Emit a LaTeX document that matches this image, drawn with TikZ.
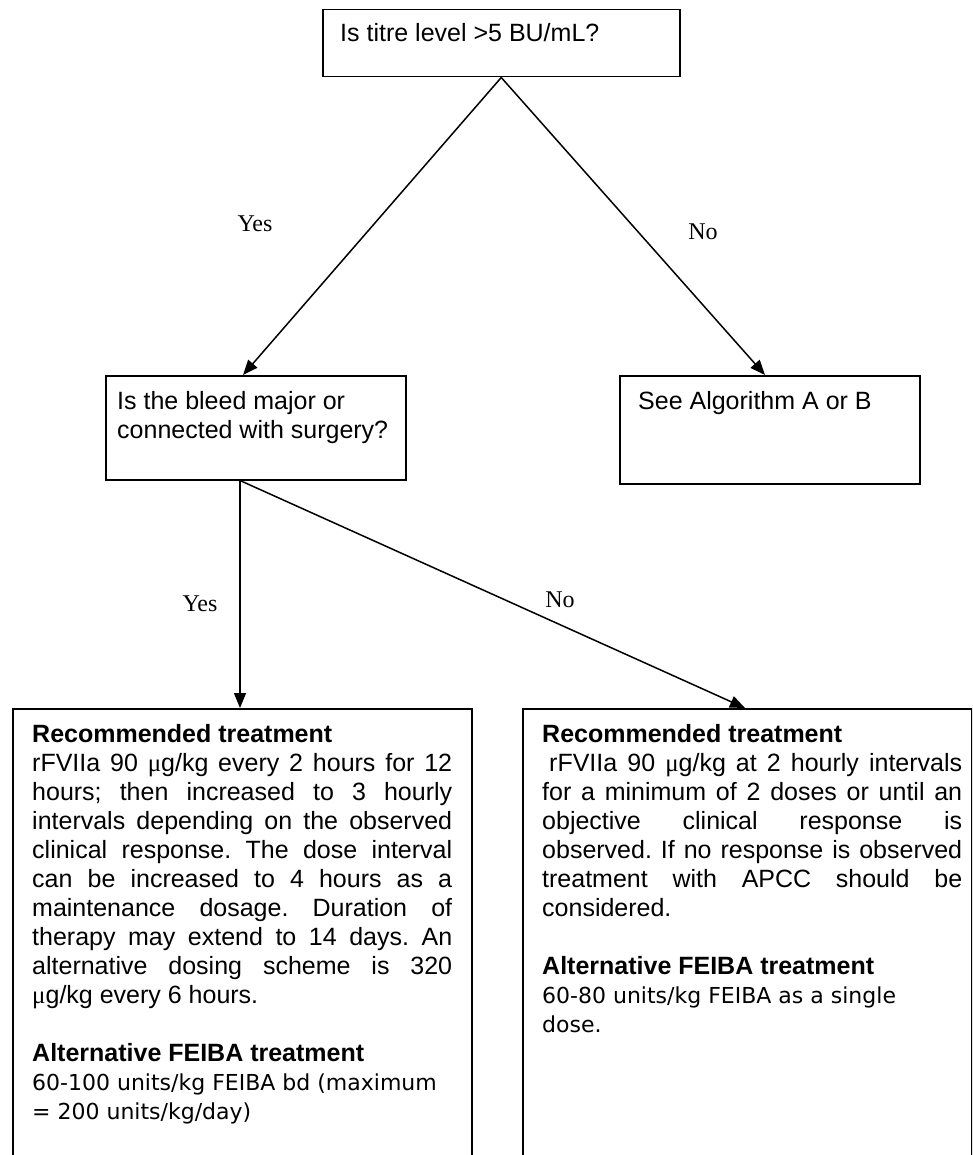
\documentclass[tikz,border=0pt]{standalone}
\usepackage{fontspec}
\setmainfont{Liberation Sans}
\newfontfamily\ynfont{Liberation Serif}
\newfontfamily\feibafont{DejaVu Sans}
\usetikzlibrary{arrows.meta,positioning}
\newcommand{\mugr}{{\ynfont\char"03BC}g}
\frenchspacing

\begin{document}
\begin{tikzpicture}[x=1pt,y=-1pt,
    box/.style={draw,line width=1.5pt,inner sep=0pt,anchor=north west},
    boxtext/.style={inner sep=0pt,font=\fontsize{25}{29}\selectfont},
    answer/.style={inner sep=0pt,font=\ynfont\fontsize{24}{28}\selectfont},
    arrow/.style={line width=1.5pt,-{Triangle[length=15pt,width=12pt]}},
  ]
  \useasboundingbox (0,0) rectangle (972,1155);
  \clip (0,0) rectangle (972,1155);

  % questions
  \node[box,minimum width=357pt,minimum height=67pt] (titre) at (322,9) {};
  \node[box,minimum width=300pt,minimum height=104pt] (bleed) at (105,375) {};
  \node[box,minimum width=300pt,minimum height=108pt] (algo) at (619,375) {};
  % treatments, open at the foot of the page
  \node[box,minimum width=459pt,minimum height=470pt] (major) at (12,708) {};
  \node[box,minimum width=449pt,minimum height=470pt] (minor) at (522,708) {};

  \node[boxtext,anchor=base west] (titreq) at ([xshift=18pt,yshift=-33pt]titre.north west) {Is titre level >5 BU/mL?};
  \node[boxtext,anchor=north west,align=left] (bleedq) at ([xshift=12pt,yshift=-16pt]bleed.north west) {Is the bleed major or\\connected with surgery?};
  \node[boxtext,anchor=base west] (algoq) at ([xshift=19pt,yshift=-34pt]algo.north west) {See Algorithm A or B};

  \node[boxtext,anchor=north west,text width=420pt,align=justify] (majortxt) at ([xshift=20pt,yshift=-16pt]major.north west) {%
    \hbadness=10000 \hyphenpenalty=10000
    \textbf{Recommended treatment}\\
    rFVIIa 90 \mugr/kg every 2 hours for 12\linebreak
    hours; then increased to 3 hourly\linebreak
    intervals depending on the observed\linebreak
    clinical response. The dose interval\linebreak
    can be increased to 4 hours as a\linebreak
    maintenance dosage. Duration of\linebreak
    therapy may extend to 14 days. An\linebreak
    alternative dosing scheme is 320\linebreak
    \mugr/kg every 6 hours.\par\vspace{29pt}
    \textbf{Alternative FEIBA treatment}\\
    {\feibafont\fontsize{22}{29}\selectfont 60-100 units/kg FEIBA bd (maximum\\
    = 200 units/kg/day)}};
  \node[boxtext,anchor=north west,text width=420pt,align=justify] (minortxt) at ([xshift=20pt,yshift=-16pt]minor.north west) {%
    \hbadness=10000 \hyphenpenalty=10000
    \textbf{Recommended treatment}\\
    \hspace*{0.28em}rFVIIa 90 \mugr/kg at 2 hourly intervals\linebreak
    for a minimum of 2 doses or until an\linebreak
    objective clinical response is\linebreak
    observed. If no response is observed\linebreak
    treatment with APCC should be\linebreak
    considered.\par\vspace{29pt}
    \textbf{Alternative FEIBA treatment}\\
    {\feibafont\fontsize{22}{29}\selectfont 60-80 units/kg FEIBA as a single\\
    dose.}};

  % answers
  \node[answer] (yes1) at (255,224) {Yes};
  \node[answer] (no1) at (703,232) {No};
  \node[answer] (yes2) at (200,604) {Yes};
  \node[answer] (no2) at (560,600) {No};

  % connectors
  \draw[arrow] (titre.south) -- ([xshift=138pt]bleed.north west);
  \draw[arrow] (titre.south) -- ([xshift=146pt]algo.north west);
  \draw[arrow] ([xshift=135pt]bleed.south west) -- ([xshift=228pt]major.north west);
  \draw[arrow] ([xshift=135pt]bleed.south west) -- ([xshift=223pt]minor.north west);
\end{tikzpicture}
\end{document}
